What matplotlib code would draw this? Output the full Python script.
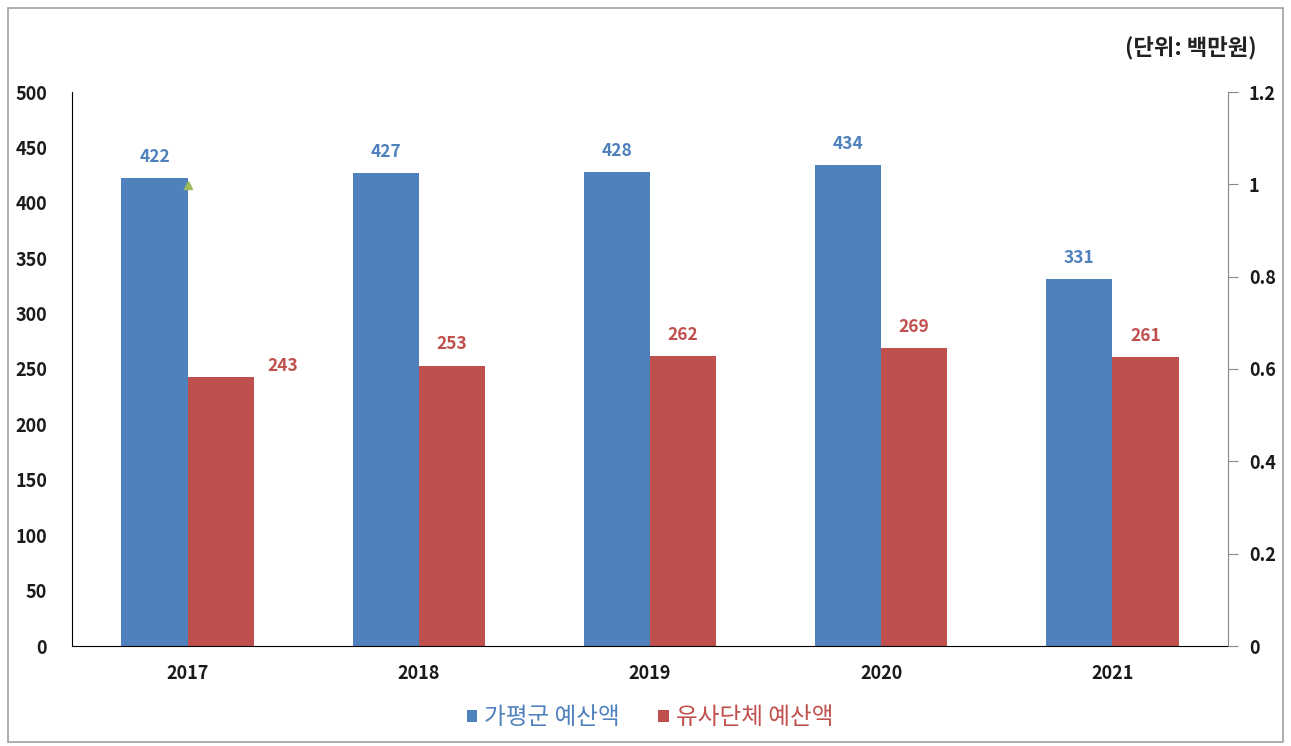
import matplotlib
matplotlib.use("Agg")
import matplotlib.pyplot as plt
from matplotlib.patches import Rectangle
import numpy as np

plt.rcParams['font.family'] = ['Noto Sans CJK KR', 'DejaVu Sans']

years = ['2017', '2018', '2019', '2020', '2021']
gapyeong = [422, 427, 428, 434, 331]
similar = [243, 253, 262, 269, 261]
series_names = ['가평군 예산액', '유사단체 예산액']
unit_text = '(단위: 백만원)'

blue = '#4F81BD'
red = '#C0504D'

W, H = 1291, 746
fig = plt.figure(figsize=(W / 100, H / 100), dpi=100)
fig.patch.set_facecolor('white')
fig.add_artist(Rectangle((8 / W, 4 / H), (W - 16) / W, (H - 12) / H, transform=fig.transFigure,
                         fill=False, edgecolor='#A0A0A0', linewidth=1.2))

ax = fig.add_axes([72 / W, 1 - 646 / H, (1228 - 72) / W, (646 - 92) / H])
x = np.arange(len(years))
bw = 0.286
b1 = ax.bar(x - bw / 2, gapyeong, bw, color=blue, label=series_names[0])
b2 = ax.bar(x + bw / 2, similar, bw, color=red, label=series_names[1])

ax.set_xlim(-0.5, len(years) - 0.5)
ax.set_ylim(0, 500)
ax.set_yticks(np.arange(0, 501, 50))
ax.set_xticks(x)
ax.set_xticklabels(years)
ax.tick_params(axis='both', length=0, labelsize=13)
for lab in ax.get_xticklabels() + ax.get_yticklabels():
    lab.set_fontweight('bold')
    lab.set_color('#1a1a1a')
ax.tick_params(axis='y', pad=18)
ax.tick_params(axis='x', pad=13)
for side in ['top', 'right']:
    ax.spines[side].set_visible(False)
ax.spines['left'].set_color('black')
ax.spines['bottom'].set_color('black')

lab_kw = dict(ha='center', va='bottom', fontsize=12.5, fontweight='bold')
for i, v in enumerate(gapyeong):
    ax.text(x[i] - bw / 2, v + 11, str(v), color=blue, **lab_kw)
for i, v in enumerate(similar):
    if i == 0:
        ax.text(x[i] + bw / 2 + 0.27, v + 2, str(v), color=red, **lab_kw)
    else:
        ax.text(x[i] + bw / 2, v + 11, str(v), color=red, **lab_kw)

# small green marker at the corner of the first bar
ax.plot([x[0]], [gapyeong[0] - 6], marker='^', color='#9BBB59', markersize=6, zorder=5)

ax2 = ax.twinx()
ax2.set_ylim(0, 1.2)
ax2.set_yticks([0, 0.2, 0.4, 0.6, 0.8, 1.0, 1.2])
ax2.set_yticklabels(['0', '0.2', '0.4', '0.6', '0.8', '1', '1.2'])
ax2.tick_params(axis='y', length=7, color='#888888', labelsize=13, pad=8)
for lab in ax2.get_yticklabels():
    lab.set_fontweight('bold')
    lab.set_color('#1a1a1a')
for side in ['top', 'left', 'bottom']:
    ax2.spines[side].set_visible(False)
ax2.spines['right'].set_color('#888888')

fig.text(1257 / W, 1 - 48 / H, unit_text, ha='right', va='center', fontsize=16,
         fontweight='bold', color='#222222')

leg = fig.legend(handles=[b1, b2], loc='center', bbox_to_anchor=(650 / W, 1 - 718 / H),
                 ncol=2, frameon=False, fontsize=17, handlelength=0.45, handleheight=0.45,
                 handletextpad=0.3, columnspacing=1.6)
for t, c in zip(leg.get_texts(), [blue, red]):
    t.set_color(c)

fig.savefig('out.png', dpi=100)
